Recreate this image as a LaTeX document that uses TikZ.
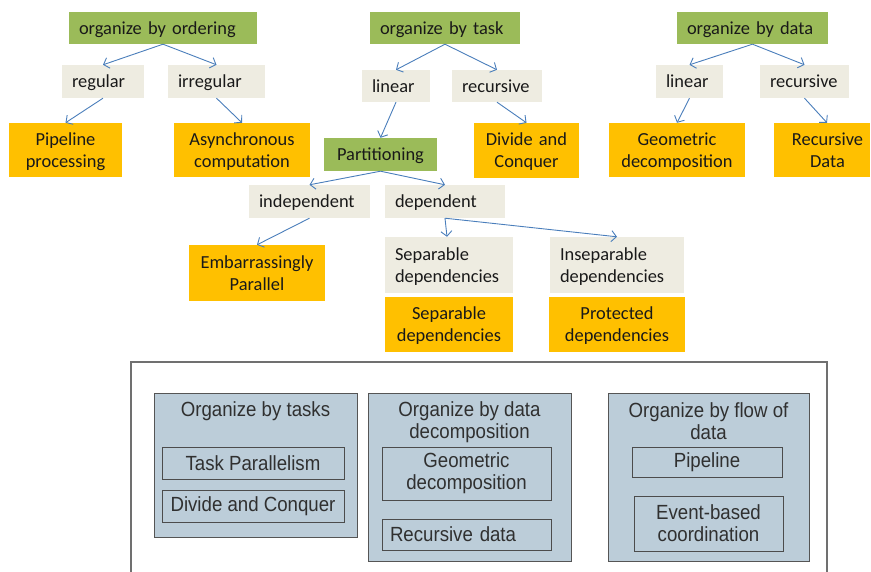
\documentclass[tikz,border=0pt]{standalone}
\usepackage{fontspec}
\setmainfont{Carlito}
\newfontfamily\panelfont[FakeStretch=0.91]{Liberation Sans}
\usetikzlibrary{arrows.meta}

\definecolor{leafgreen}{HTML}{9BBB59}
\definecolor{paperbeige}{HTML}{EEECE1}
\definecolor{amber}{HTML}{FFC000}
\definecolor{linkblue}{HTML}{4A7EBB}
\definecolor{panelfill}{HTML}{BCCDD9}
\definecolor{panelline}{HTML}{555555}
\definecolor{paneltext}{HTML}{303030}
\definecolor{framegray}{HTML}{707070}

\begin{document}
\begin{tikzpicture}[x=1pt, y=-1pt,
  box/.style={inner xsep=10pt, inner ysep=0pt, text=black!90,
    font=\fontsize{18.4}{22}\selectfont},
  oneline/.style={text height=13pt, text depth=0pt},
  twoline/.style={text height=13pt, text depth=22.5pt},
  greenbox/.style={box, oneline, fill=leafgreen, align=left},
  greybox/.style={box, oneline, fill=paperbeige, align=left},
  orangebox/.style={box, twoline, fill=amber, align=center},
  link/.style={draw=linkblue, line width=0.9pt,
    -{Straight Barb[length=5pt, width=11pt]}},
  panel/.style={draw=panelline, line width=1pt, fill=panelfill},
  paneltitle/.style={text=paneltext, align=center, inner sep=0pt,
    font=\panelfont\fontsize{20.5}{22}\selectfont},
  item/.style={panel, draw=panelline!90!black, text=paneltext, align=center,
    inner xsep=8pt, inner ysep=0pt,
    font=\panelfont\fontsize{20.5}{22}\selectfont}
]
\useasboundingbox (0,0) rectangle (871,572);

% --- organize by ordering ---
\node[greenbox, text width=168pt, minimum height=32pt] (ordering) at (163,28) {organize by ordering};
\node[greybox, text width=62pt, minimum height=33pt] (regular) at (103,81.5) {regular};
\node[greybox, text width=77pt, minimum height=33pt] (irregular) at (216.5,81.5) {irregular};
\node[orangebox, text width=93pt, minimum height=54pt] (pipeproc) at (65.5,150) {Pipeline\\processing};
\node[orangebox, text width=116pt, minimum height=54pt] (async) at (242,150) {Asynchronous\\computation};

% --- organize by task ---
\node[greenbox, text width=130pt, minimum height=32pt] (task) at (445,28) {organize by task};
\node[greybox, text width=48pt, minimum height=32pt] (tlinear) at (396,86) {linear};
\node[greybox, text width=70pt, minimum height=32pt] (trec) at (497,86) {recursive};
\node[orangebox, text width=85pt, minimum height=55pt] (dnc) at (526.5,150.5) {Divide and\\Conquer};
\node[greenbox, align=center, text width=93pt, minimum height=33pt] (part) at (380.5,154.5) {Partitioning};

% --- organize by data ---
\node[greenbox, text width=131pt, minimum height=32pt] (data) at (752.5,28) {organize by data};
\node[greybox, text width=47pt, minimum height=33pt] (dlinear) at (689.5,81.5) {linear};
\node[greybox, text width=69pt, minimum height=33pt] (drec) at (804.5,81.5) {recursive};
\node[orangebox, text width=116pt, minimum height=54pt] (geo) at (677,150) {Geometric\\decomposition};
\node[orangebox, inner xsep=0pt, text width=96pt, minimum height=54pt] (recdata) at (822,150)
  {\hspace*{11pt}Recursive\\\hspace*{11pt}Data};

% --- partitioning subtree ---
\node[greybox, text width=101pt, minimum height=33pt] (indep) at (309.5,201.5) {independent};
\node[greybox, text width=100pt, minimum height=33pt] (dep) at (445,201.5) {dependent};
\node[orangebox, text width=116pt, minimum height=56pt] (embar) at (257,273) {Embarrassingly\\Parallel};
\node[greybox, twoline, text width=108pt, minimum height=56pt] (sepg) at (449,265) {Separable\\dependencies};
\node[greybox, twoline, text width=114pt, minimum height=56pt] (insep) at (617,265) {Inseparable\\dependencies};
\node[orangebox, text width=108pt, minimum height=55pt] (sepo) at (449,324.5) {Separable\\dependencies};
\node[orangebox, text width=116pt, minimum height=55pt] (prot) at (617,324.5) {Protected\\dependencies};

% --- connectors ---
\draw[link] (ordering.south) -- (regular.north);
\draw[link] (ordering.south) -- (irregular.north);
\draw[link] (regular.south) -- (pipeproc.north);
\draw[link] (irregular.south) -- (async.north);
\draw[link] (task.south) -- (tlinear.north);
\draw[link] (task.south) -- (trec.north);
\draw[link] (tlinear.south) -- (part.north);
\draw[link] (trec.south) -- (dnc.north);
\draw[link] (data.south) -- (dlinear.north);
\draw[link] (data.south) -- (drec.north);
\draw[link] (dlinear.south) -- (geo.north);
\draw[link] (drec.south) -- ([xshift=5pt]recdata.north);
\draw[link] (part.south) -- (indep.north);
\draw[link] (part.south) -- (dep.north);
\draw[link] (indep.south) -- (embar.north);
\draw[link] (dep.south) -- ([xshift=-2pt]sepg.north);
\draw[link] (dep.south) -- (insep.north);

% --- pattern overview frame ---
\draw[framegray, line width=1.2pt] (131,575) -- (131,362) -- (827,362) -- (827,575);

\node[panel, minimum width=203pt, minimum height=144pt] (ptasks) at (255.5,465) {};
\node[panel, minimum width=203pt, minimum height=168pt] (pdata) at (469.5,477) {};
\node[panel, minimum width=201pt, minimum height=168pt] (pflow) at (708.5,477) {};

\node[paneltitle] (ttasks) at (255.5,411) {Organize by tasks};
\node[paneltitle] (tdata) at (469.5,422) {Organize by data\\decomposition};
\node[paneltitle] (tflow) at (708.5,421.5) {Organize by flow of\\data};

\node[item, minimum width=182pt, minimum height=32pt] (taskpar) at (253,463) {Task Parallelism};
\node[item, minimum width=182pt, minimum height=32pt] (divconq) at (253,506) {Divide and Conquer};
\node[item, minimum width=169pt, minimum height=53pt] (geodec) at (466.5,473.5) {Geometric\\decomposition};
\node[item, text width=153pt, align=left, minimum height=31pt] (recd) at (466.5,534.5) {Recursive data};
\node[item, minimum width=150pt, minimum height=30pt] (pipe) at (707,462) {Pipeline};
\node[item, minimum width=149pt, minimum height=55pt] (event) at (708.5,523.5) {Event-based\\coordination};
\end{tikzpicture}
\end{document}
